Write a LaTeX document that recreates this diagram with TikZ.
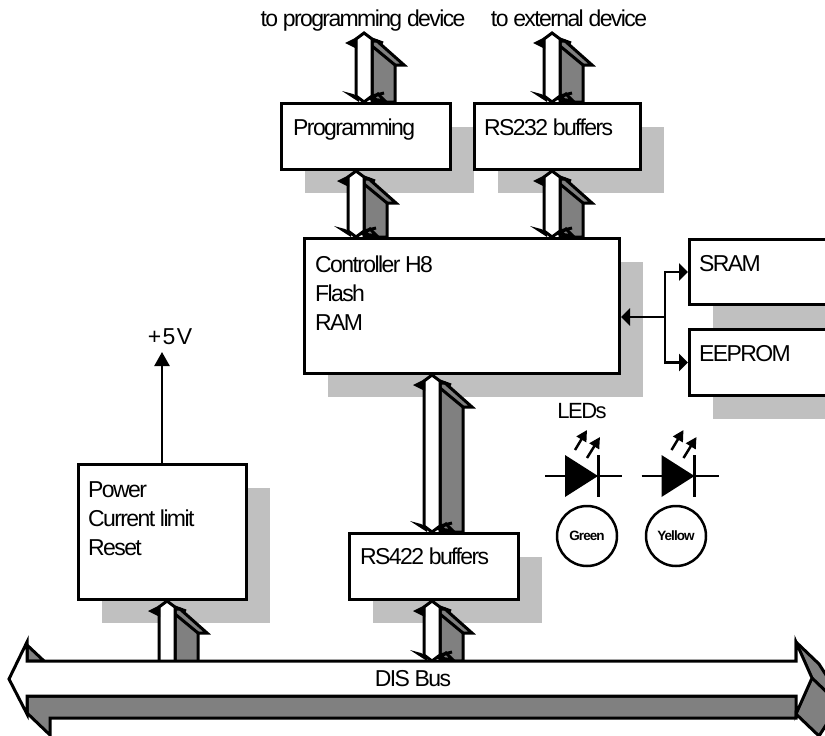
\documentclass[tikz,border=0pt]{standalone}
\usepackage{fontspec}
\setmainfont[LetterSpace=-7]{Liberation Sans}
\usetikzlibrary{arrows.meta,shadows}
\definecolor{busgray}{HTML}{808080}
\definecolor{shadegray}{HTML}{C0C0C0}
\tikzset{
  box/.style={draw,line width=3pt,fill=white,anchor=north west,inner sep=0pt,
    drop shadow={shadow xshift=23pt,shadow yshift=-23pt,fill=shadegray,opacity=1}},
  lbl/.style={anchor=north west,inner sep=0pt,align=left,font=\fontsize{23}{29}\selectfont},
  toplbl/.style={inner sep=0pt,anchor=base,font=\fontsize{23}{29}\selectfont},
  ledlbl/.style={draw,circle,line width=2.5pt,minimum size=60pt,inner sep=0pt,font=\fontsize{13.5}{16}\selectfont\bfseries},
  busfront/.style={draw,line width=3pt,fill=white,line join=miter},
  busback/.style={draw,line width=3pt,fill=busgray,line join=miter},
  sig/.style={line width=2.5pt,-{Triangle[length=9pt,width=17pt]}}
}
\begin{document}
\begin{tikzpicture}[x=1pt,y=-1pt]
\path[use as bounding box,clip] (0,0) rectangle (825,736);
% boxes
\node[box,minimum width=169,minimum height=66] (prog) at (280,102) {};
\node[box,minimum width=166,minimum height=66] (rsbuf) at (473,102) {};
\node[box,minimum width=315,minimum height=135] (ctrl) at (303,237) {};
\node[box,minimum width=160,minimum height=65] (sram) at (688,238) {};
\node[box,minimum width=160,minimum height=66] (eeprom) at (688,328) {};
\node[box,minimum width=168,minimum height=135] (power) at (77,463) {};
\node[box,minimum width=169,minimum height=66] (rsbus) at (348,532) {};
\node[lbl] (progt) at (293,118.5) {Programming};
\node[lbl] (rsbuft) at (484,118.5) {RS232 buffers};
\node[lbl] (ctrlt) at (315,256) {Controller H8\\Flash\\RAM};
\node[lbl] (sramt) at (699,255) {SRAM};
\node[lbl] (eepromt) at (699,345) {EEPROM};
\node[lbl] (powert) at (88,481) {Power\\Current limit\\Reset};
\node[lbl] (rsbust) at (360,548) {RS422 buffers};
\node[toplbl] (todev) at (363,26) {to programming device};
\node[toplbl] (toext) at (569,26) {to external device};
\coordinate (topa) at (364,33);
\coordinate (topb) at (552,33);
\coordinate (bustop) at (413,661);
\coordinate (busmid) at (413,690);
% wide arrows
\foreach \cx/\from/\to in {364/topa/prog.north,552/topb/rsbuf.north,356/prog.south/ctrl.north,552/rsbuf.south/ctrl.north,432/ctrl.south/rsbus.north,432/rsbus.south/bustop,167/power.south/busmid}{
  \coordinate (tipa) at (\cx,0 |- \from);
  \coordinate (tipb) at (\cx,0 |- \to);
  \path (tipa) ++(8,6) coordinate (ra) (tipa) ++(-8,6) coordinate (la);
  \path (tipb) ++(8,-6) coordinate (rb) (tipb) ++(-8,-6) coordinate (lb);
  \draw[busback] (ra) ++(0,2) -- ++(5,0) -- ++(27,24) -- ++(-9,0) -- (\cx+31,0 |- tipb) -- (\cx+8,0 |- tipb) -- cycle;
  \draw[line width=3pt] (ra) ++(0,7) -- ++(23,19);
  \draw[busback] (tipb) ++(8,-3) -- ++(6,-5) -- ++(7,7) -- cycle;
  \draw[busfront] (tipa) -- (ra) -- (rb) -- (tipb) -- (lb) -- (la) -- cycle;
  % barbs
  \fill (la) ++(1,-2) -- ++(-12,6) -- ++(12,6) -- cycle;
  \draw[line width=3pt] (ra) -- ++(11,4);
  \fill (tipb) ++(-5,0) -- ++(-17,-11) -- ++(11,3) -- ++(6,3) -- cycle;
  \draw[line width=3pt] (rb) -- ++(12,-3);
}
% bus
\draw[busback] (796,696) -- (796,642) -- (819,664) -- (842,700) -- (819,736) -- (796,714) -- (796,718) -- (50,718) -- (50,735) -- (27,713) -- (27,696) -- cycle;
\draw[busback] (27,645) -- (44,661) -- (27,661) -- cycle;
\draw[busfront] (9,679) -- (27,642) -- (27,661) -- (796,661) -- (796,642) -- (812,678) -- (796,714) -- (796,696) -- (27,696) -- (27,714) -- cycle;
\draw[line width=3pt] (812,678) -- (835,700);
\node[inner sep=0pt,font=\fontsize{23}{29}\selectfont] (disbus) at (413,679) {DIS Bus};
% signals
\coordinate (fork) at (665,317);
\draw[sig] (fork) -- (ctrl.east |- fork);
\draw[sig] (fork) |- (sram.west);
\draw[sig] (fork) |- (eeprom.west);
\node[inner sep=0pt,font=\fontsize{23}{27}\selectfont\addfontfeature{LetterSpace=6}] (plusv) at (170,337) {+5V};
\coordinate (fivev) at (162,352);
\draw[sig,-{Triangle[length=14pt,width=15pt]}] (power.north -| fivev) -- (fivev);
% leds
\node[toplbl,anchor=center,font=\fontsize{22}{29}\selectfont] (leds) at (582,411) {LEDs};
\foreach \ledx in {0,96.5}{
  \begin{scope}[xshift=\ledx]
    \draw[line width=2.5pt] (545,476) -- (622,476);
    \fill (565,455) -- (598,476) -- (565,497) -- cycle;
    \draw[line width=3pt] (598,455) -- (598,497);
    \draw[line width=2.5pt,-{Triangle[length=11pt,width=11pt]}] (575,450) -- (587,430);
    \draw[line width=2.5pt,-{Triangle[length=11pt,width=11pt]}] (587,458) -- (600,437);
  \end{scope}
}
\node[ledlbl] (green) at (587,536) {Green};
\node[ledlbl] (yellow) at (676,536) {Yellow};
\end{tikzpicture}
\end{document}
